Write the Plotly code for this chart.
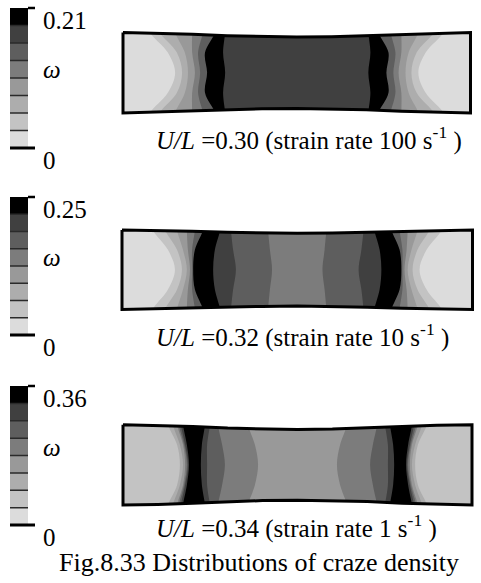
import plotly.graph_objects as go

W, H = 481, 583
SERIF = "Liberation Serif, Times New Roman, serif"

# Eight contour bands of craze density omega, lowest to highest
BAND_COLORS = ["#dcdcdc", "#c3c3c3", "#adadad", "#999999",
               "#7c7c7c", "#5e5e5e", "#404040", "#000000"]
N_BANDS = len(BAND_COLORS)

# One panel per loading case
OMEGA_MAX = [0.21, 0.25, 0.36]
U_OVER_L = ["0.30", "0.32", "0.34"]
STRAIN_RATE = ["100", "10", "1"]

# Stations across the width (fraction of the end half-width, bottom -> top)
ETA_STATIONS = [-1.0, -0.5, 0.0, 0.5, 1.0]

# Deformed outline: half-width (relative to the ends) along x/L, left half
PROFILE_X = [0.0, 0.1, 0.2, 0.3, 0.4, 0.5]
PROFILE_ETA = [
    [1.0, 0.985, 0.955, 0.92, 0.895, 0.886],
    [1.0, 0.99, 0.97, 0.945, 0.925, 0.915],
    [1.0, 0.985, 0.955, 0.915, 0.89, 0.88],
]

# Contour boundaries on the left half, x/L at [edge, half-width, mid-plane];
# the right half is the mirror image.  Listed from the specimen end inwards.
BOUNDS = [
    [[0.078, 0.129, 0.150], [0.106, 0.155, 0.170], [0.150, 0.178, 0.187],
     [0.199, 0.199, 0.207], [0.230, 0.216, 0.222], [0.265, 0.236, 0.242],
     [0.294, 0.288, 0.294]],
    [[0.088, 0.131, 0.151], [0.123, 0.157, 0.171], [0.157, 0.174, 0.185],
     [0.185, 0.188, 0.194], [0.208, 0.200, 0.200], [0.231, 0.208, 0.203],
     [0.280, 0.265, 0.260], [0.311, 0.317, 0.325], [0.417, 0.422, 0.428]],
    [[0.129, 0.155, 0.163], [0.143, 0.163, 0.172], [0.155, 0.172, 0.178],
     [0.160, 0.175, 0.183], [0.166, 0.178, 0.186], [0.172, 0.183, 0.189],
     [0.235, 0.226, 0.223], [0.249, 0.241, 0.241], [0.272, 0.284, 0.292],
     [0.358, 0.378, 0.387]],
]
# Band index (1 = lowest) of the end region and of each region inside a boundary
LEVELS = [
    [1, 2, 3, 4, 5, 6, 8, 7],
    [1, 2, 3, 4, 5, 6, 8, 7, 6, 5],
    [2, 3, 4, 5, 6, 7, 8, 7, 6, 5, 4],
]

# Page layout in pixels
SPEC_PX = [(123, 470.5, 72.75, 40.25), (122, 472.5, 269.7, 39.7), (123, 472, 464.85, 40.15)]
BAR_PX = [(8, 148), (197, 335), (386, 525)]
BAR_X = (10, 35)
CAPTION_Y = [138, 335, 526]
CAPTION_X = 154
FIG_CAPTION = (57, 562)


def px_x(px):
    return px / W


def px_y(py):
    return 1 - py / H


def mirrored_outline(eta):
    xs = list(PROFILE_X) + [1 - v for v in reversed(PROFILE_X[:-1])]
    es = list(eta) + list(reversed(eta[:-1]))
    return xs, es


def boundary_polygon(b, ext=1.12):
    e, h, m = b
    lx = [e, e, h, m, h, e, e]
    ly = [-ext] + ETA_STATIONS + [ext]
    rx = [1 - v for v in reversed(lx)]
    ry = list(reversed(ly))
    return lx + rx, ly + ry


fig = go.Figure()
layout = {}
shapes = []
annotations = []

XPAD = 0.02
YR = 1.4
MASK = 4.0  # white trim reaches well past the visible range

for i in range(3):
    xa, ya = f"x{2 * i + 1}", f"y{2 * i + 1}"
    xb, yb = f"x{2 * i + 2}", f"y{2 * i + 2}"
    x0, x1, yc, hh = SPEC_PX[i]
    L = x1 - x0
    layout[f"xaxis{2 * i + 1}"] = dict(
        domain=[px_x(x0 - XPAD * L), px_x(x1 + XPAD * L)], range=[-XPAD, 1 + XPAD],
        visible=False, fixedrange=True, anchor=ya)
    layout[f"yaxis{2 * i + 1}"] = dict(
        domain=[px_y(yc + YR * hh), px_y(yc - YR * hh)], range=[-YR, YR],
        visible=False, fixedrange=True, anchor=xa)

    levels = LEVELS[i]
    # whole specimen in the end-region band
    fig.add_trace(go.Scatter(
        x=[0, 1, 1, 0], y=[-1, -1, 1, 1], mode="lines", fill="toself",
        fillcolor=BAND_COLORS[levels[0] - 1], line=dict(width=0),
        xaxis=xa, yaxis=ya, hoverinfo="skip", showlegend=False))
    for b, lev in zip(BOUNDS[i], levels[1:]):
        px, py = boundary_polygon(b)
        fig.add_trace(go.Scatter(
            x=px, y=py, mode="lines", fill="toself",
            fillcolor=BAND_COLORS[lev - 1], line=dict(width=0, shape="spline"),
            xaxis=xa, yaxis=ya, hoverinfo="skip", showlegend=False))

    xs, es = mirrored_outline(PROFILE_ETA[i])
    # trim everything outside the necked outline
    fig.add_trace(go.Scatter(
        x=[-1] + xs + [2, 2, -1], y=[1.0] + es + [1.0, MASK, MASK], mode="lines",
        fill="toself", fillcolor="white", line=dict(width=0), xaxis=xa, yaxis=ya,
        hoverinfo="skip", showlegend=False))
    fig.add_trace(go.Scatter(
        x=[-1] + xs + [2, 2, -1], y=[-1.0] + [-v for v in es] + [-1.0, -MASK, -MASK],
        mode="lines", fill="toself", fillcolor="white", line=dict(width=0),
        xaxis=xa, yaxis=ya, hoverinfo="skip", showlegend=False))
    fig.add_trace(go.Scatter(
        x=xs + list(reversed(xs)) + [xs[0]],
        y=es + [-v for v in reversed(es)] + [es[0]],
        mode="lines", line=dict(color="black", width=3),
        xaxis=xa, yaxis=ya, hoverinfo="skip", showlegend=False))

    # colour scale
    vmax = OMEGA_MAX[i]
    step = vmax / N_BANDS
    top, bot = BAR_PX[i]
    span = bot - top
    layout[f"xaxis{2 * i + 2}"] = dict(
        domain=[px_x(BAR_X[0] - 0.1 * (BAR_X[1] - BAR_X[0])),
                px_x(BAR_X[1] + 0.1 * (BAR_X[1] - BAR_X[0]))],
        range=[-0.1, 1.1], visible=False, fixedrange=True, anchor=yb)
    layout[f"yaxis{2 * i + 2}"] = dict(
        domain=[px_y(bot + 0.05 * span), px_y(top - 0.05 * span)],
        range=[-0.05 * vmax, 1.05 * vmax], visible=False, fixedrange=True, anchor=xb)
    fig.add_trace(go.Bar(
        x=[0.36] * N_BANDS, y=[step] * N_BANDS, base=[k * step for k in range(N_BANDS)],
        width=0.72, marker=dict(color=BAND_COLORS, line=dict(width=0)),
        xaxis=xb, yaxis=yb, hoverinfo="skip", showlegend=False))
    for k in range(1, N_BANDS):
        shapes.append(dict(type="line", xref=xb, yref=yb, x0=0, x1=0.72,
                           y0=k * step, y1=k * step, line=dict(color="#2a2a2a", width=1.5)))
    shapes.append(dict(type="line", xref=xb, yref=yb, x0=0, x1=1, y0=0, y1=0,
                       line=dict(color="black", width=3)))
    shapes.append(dict(type="line", xref=xb, yref=yb, x0=0.72, x1=1, y0=vmax, y1=vmax,
                       line=dict(color="black", width=2.5)))
    annotations.append(dict(xref=xb, yref=yb, x=1, y=vmax, xanchor="left", yanchor="middle",
                            xshift=6, yshift=-12, text=f"{vmax:.2f}", showarrow=False,
                            font=dict(family=SERIF, size=25, color="black")))
    annotations.append(dict(xref=xb, yref=yb, x=1, y=0.56 * vmax, xanchor="left",
                            yanchor="middle", xshift=6, text="<i>ω</i>", showarrow=False,
                            font=dict(family=SERIF, size=25, color="black")))
    annotations.append(dict(xref=xb, yref=yb, x=1, y=0, xanchor="left", yanchor="middle",
                            xshift=6, yshift=-12, text="0", showarrow=False,
                            font=dict(family=SERIF, size=25, color="black")))

    annotations.append(dict(
        xref="paper", yref="paper", x=px_x(CAPTION_X), y=px_y(CAPTION_Y[i]),
        xanchor="left", yanchor="middle", showarrow=False,
        text=f"<i>U/L</i> ={U_OVER_L[i]} (strain rate {STRAIN_RATE[i]} s<sup>-1</sup> )",
        font=dict(family=SERIF, size=25, color="black")))

annotations.append(dict(
    xref="paper", yref="paper", x=px_x(FIG_CAPTION[0]), y=px_y(FIG_CAPTION[1]),
    xanchor="left", yanchor="middle",
    showarrow=False, text="Fig.8.33 Distributions of craze density",
    font=dict(family=SERIF, size=26, color="black")))

fig.update_layout(
    width=W, height=H, margin=dict(l=0, r=0, t=0, b=0),
    paper_bgcolor="white", plot_bgcolor="white", showlegend=False,
    shapes=shapes, annotations=annotations, **layout)

fig.write_html("out.html", config={"displayModeBar": False})
